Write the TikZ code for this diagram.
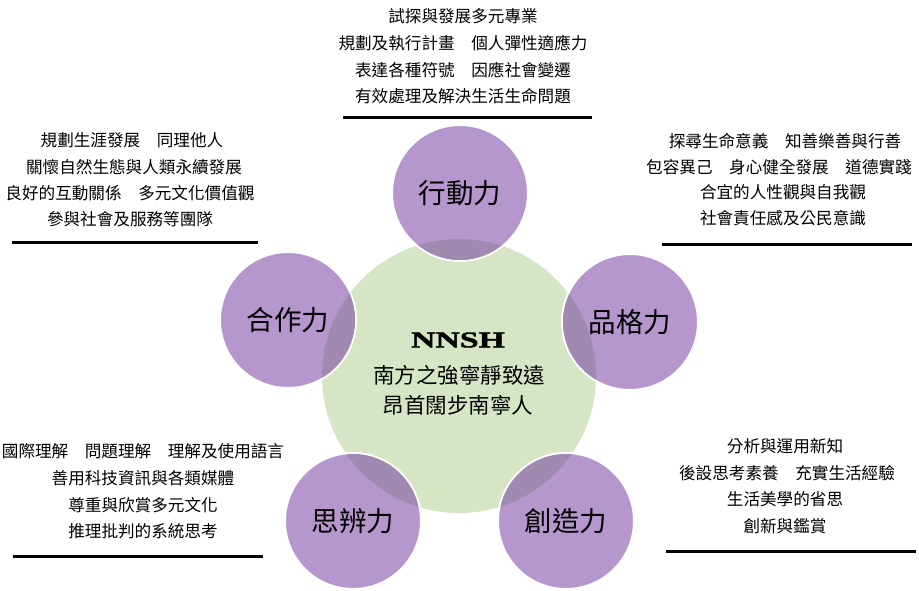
\documentclass[tikz,border=0pt]{standalone}
\usepackage{fontspec}
\newfontfamily\cjk{Noto Sans CJK TC}
\newfontfamily\nnshfont[FakeBold=1.5]{Liberation Serif}
\definecolor{pur}{HTML}{B697CD}
\definecolor{ovl}{HTML}{A08AB1}
\definecolor{grn}{HTML}{D6E6C5}
\tikzset{
  txt/.style={inner sep=0pt, outer sep=0pt, font=\cjk\fontsize{16.6pt}{20pt}\selectfont, text=black},
  pc/.style={circle, minimum size=136pt, inner sep=0pt, fill=pur, draw=white, line width=2pt},
  plbl/.style={inner sep=0pt, font=\cjk\fontsize{27.5pt}{33pt}\selectfont, text=black},
  uline/.style={line width=3pt, black},
  hubtxt/.style={inner sep=0pt, font=\cjk\fontsize{21.5pt}{26pt}\selectfont, text=black}
}
\begin{document}
\begin{tikzpicture}[x=1pt,y=-1pt]
\useasboundingbox (0,0) rectangle (919,590);
\fill[white] (0,0) rectangle (919,590);
% hub
\node[circle, minimum size=274pt, inner sep=0pt, fill=grn] (hub) at (459,376) {};
% purple circles
\node[pc] (act) at (460,193) {};
\node[pc] (cha) at (630,322) {};
\node[pc] (coo) at (288,320) {};
\node[pc] (thi) at (353,521) {};
\node[pc] (cre) at (566,521) {};
% overlaps
\begin{scope}
\clip (459,376) circle (137pt);
\foreach \p in {(460,193),(630,322),(288,320),(353,521),(566,521)}
  \fill[ovl] \p circle (67pt);
\end{scope}
% circle labels
\node[plbl] (actL) at (act) {行動力};
\node[plbl] (chaL) at (cha) {品格力};
\node[plbl] (cooL) at (coo) {合作力};
\node[plbl] (thiL) at (thi) {思辨力};
\node[plbl] (creL) at (cre) {創造力};
% hub text
\node[inner sep=0pt, font=\nnshfont\bfseries\fontsize{22.5pt}{26pt}\selectfont, xscale=1.5] (nnsh) at (458,340) {NNSH};
\node[hubtxt] (h1) at (459,375) {南方之強寧靜致遠};
\node[hubtxt] (h2) at (458,405) {昂首闊步南寧人};
% top block
\node[txt] (a1) at (463,16) {試探與發展多元專業};
\node[txt] (a2) at (463,43) {規劃及執行計畫　個人彈性適應力};
\node[txt] (a3) at (463,70) {表達各種符號　因應社會變遷};
\node[txt] (a4) at (463,96) {有效處理及解決生活生命問題};
\draw[uline] (343,117) -- (592,117);
% left block
\node[txt] (b1) at (132,140) {規劃生涯發展　同理他人};
\node[txt] (b2) at (134,167) {關懷自然生態與人類永續發展};
\node[txt] (b3) at (130,193) {良好的互動關係　多元文化價值觀};
\node[txt] (b4) at (130,219) {參與社會及服務等團隊};
\draw[uline] (12,242) -- (258,242);
% right block
\node[txt] (c1) at (785,141) {探尋生命意義　知善樂善與行善};
\node[txt] (c2) at (779,167) {包容異己　身心健全發展　道德實踐};
\node[txt] (c3) at (783,192) {合宜的人性觀與自我觀};
\node[txt] (c4) at (783,218) {社會責任感及公民意識};
\draw[uline] (662,244) -- (912,244);
% bottom-left block
\node[txt] (d1) at (143,451) {國際理解　問題理解　理解及使用語言};
\node[txt] (d2) at (143,478) {善用科技資訊與各類媒體};
\node[txt] (d3) at (143,505) {尊重與欣賞多元文化};
\node[txt] (d4) at (143,531) {推理批判的系統思考};
\draw[uline] (13,556) -- (263,556);
% bottom-right block
\node[txt] (e1) at (785,446) {分析與運用新知};
\node[txt] (e2) at (787,473) {後設思考素養　充實生活經驗};
\node[txt] (e3) at (785,499) {生活美學的省思};
\node[txt] (e4) at (785,526) {創新與鑑賞};
\draw[uline] (666,551) -- (916,551);
\end{tikzpicture}
\end{document}
